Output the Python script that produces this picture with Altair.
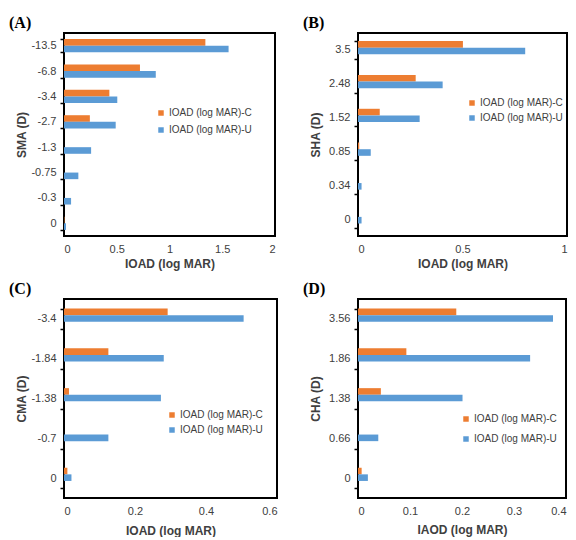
import altair as alt
import pandas as pd

series = ["IOAD (log MAR)-C", "IOAD (log MAR)-U"]
colors = ["#ED7D31", "#5B9BD5"]

a_cats = ["-13.5", "-6.8", "-3.4", "-2.7", "-1.3", "-0.75", "-0.3", "0"]
a_c = [1.34, 0.72, 0.43, 0.245, 0.0, 0.0, 0.0, 0.004]
a_u = [1.56, 0.87, 0.505, 0.49, 0.257, 0.136, 0.067, 0.019]
a_ticks = [0, 0.5, 1, 1.5, 2]

b_cats = ["3.5", "2.48", "1.52", "0.85", "0.34", "0"]
b_c = [0.502, 0.276, 0.104, 0.006, 0.0, 0.0]
b_u = [0.80, 0.405, 0.295, 0.061, 0.017, 0.017]
b_ticks = [0, 0.5, 1]

c_cats = ["-3.4", "-1.84", "-1.38", "-0.7", "0"]
c_c = [0.292, 0.125, 0.014, 0.0, 0.0095]
c_u = [0.506, 0.281, 0.273, 0.125, 0.021]
c_ticks = [0, 0.2, 0.4, 0.6]

d_cats = ["3.56", "1.86", "1.38", "0.66", "0"]
d_c = [0.189, 0.093, 0.044, 0.0, 0.007]
d_u = [0.375, 0.331, 0.201, 0.039, 0.019]
d_ticks = [0, 0.1, 0.2, 0.3, 0.4]


def panel(label, cats, cvals, uvals, ticks, ytitle, xtitle, w, h, lx, ly, rowpad, tpad):
    rows = []
    for cat, c, u in zip(cats, cvals, uvals):
        rows.append({"cat": cat, "series": series[0], "val": c})
        rows.append({"cat": cat, "series": series[1], "val": u})
    df = pd.DataFrame(rows)
    return (
        alt.Chart(
            df,
            title=alt.Title(
                label, anchor="start", dx=-6, offset=-4,
                font="Liberation Serif", fontSize=16, fontWeight="bold", color="black",
            ),
        )
        .mark_bar()
        .encode(
            x=alt.X(
                "val:Q",
                scale=alt.Scale(domain=[ticks[0], ticks[-1]], nice=False),
                axis=alt.Axis(
                    values=ticks, format="~g", title=xtitle, ticks=False, tickSize=0,
                    domain=False, grid=False, labelPadding=7, titlePadding=tpad,
                ),
            ),
            y=alt.Y(
                "cat:N", sort=cats,
                scale=alt.Scale(paddingInner=0.48, paddingOuter=0.24),
                axis=alt.Axis(
                    title=ytitle, tickBand="extent", ticks=True, tickSize=4,
                    tickColor="black", tickWidth=1.5, labelPadding=4, domain=False,
                    grid=False, titleX=-43, titleY=h / 2, titleBaseline="middle",
                ),
            ),
            yOffset=alt.YOffset("series:N", sort=series),
            color=alt.Color(
                "series:N",
                scale=alt.Scale(domain=series, range=colors),
                legend=alt.Legend(
                    title=None, orient="none", legendX=lx, legendY=ly,
                    rowPadding=rowpad, symbolType="square", symbolSize=30,
                    symbolStrokeWidth=0, labelFontSize=10, labelOffset=3,
                    labelFont="Liberation Sans", labelColor="#404040",
                ),
            ),
        )
        .properties(width=w, height=h)
    )


pa = panel("(A)", a_cats, a_c, a_u, a_ticks, "SMA (D)", "IOAD (log MAR)", 211, 203, 92, 75, 7, 4)
pb = panel("(B)", b_cats, b_c, b_u, b_ticks, "SHA (D)", "IOAD (log MAR)", 209, 203, 109, 65, 5, 4)
pc = panel("(C)", c_cats, c_c, c_u, c_ticks, "CMA (D)", "IOAD (log MAR)", 213, 199, 103, 111, 5, 9)
pd_ = panel("(D)", d_cats, d_c, d_u, d_ticks, "CHA (D)", "IAOD (log MAR)", 208, 199, 103, 115, 10, 8)

chart = (
    alt.concat(pa, pb, pc, pd_, columns=2, spacing={"row": 63, "column": 81}, bounds="flush")
    .resolve_scale(color="independent")
    .resolve_legend(color="independent")
    .properties(padding={"left": 0, "top": 6, "right": 0, "bottom": 0}, background="white")
    .configure_view(stroke="black", strokeWidth=2)
    .configure_axis(
        labelFont="Liberation Sans", labelFontSize=11, labelColor="#404040",
        titleFont="Liberation Sans", titleFontSize=12, titleFontWeight="bold",
        titleColor="#404040",
    )
)

chart.save("out.html", embed_options={"renderer": "svg", "actions": False})
